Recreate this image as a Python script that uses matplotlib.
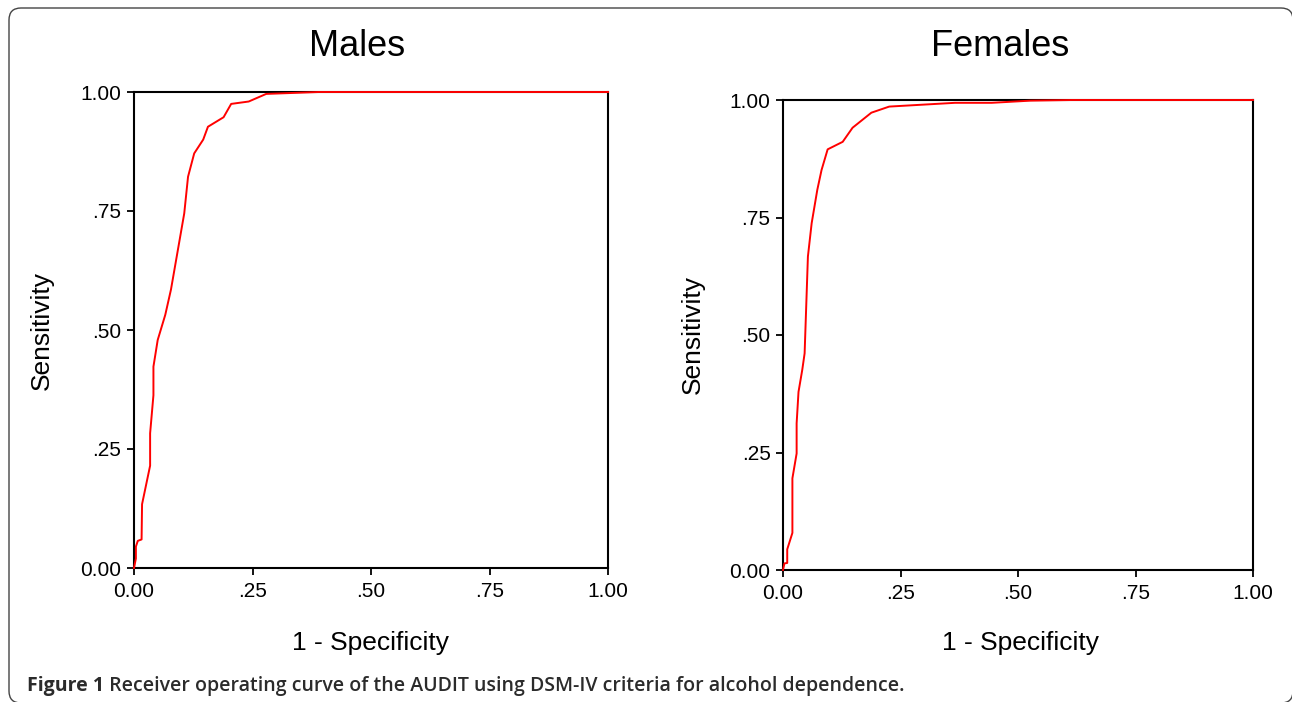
import matplotlib
matplotlib.use('Agg')
import matplotlib.pyplot as plt
from matplotlib.patches import FancyBboxPatch
from matplotlib.transforms import IdentityTransform

# ROC points (1 - specificity, sensitivity)
male_fpr = [0.0, 0.004, 0.004, 0.008, 0.016, 0.017, 0.034, 0.034, 0.041, 0.041, 0.050, 0.066,
            0.078, 0.106, 0.114, 0.127, 0.146, 0.156, 0.189, 0.205, 0.242, 0.279, 0.39, 1.0]
male_tpr = [0.0, 0.020, 0.045, 0.057, 0.060, 0.134, 0.215, 0.283, 0.363, 0.423, 0.479, 0.532,
            0.585, 0.745, 0.822, 0.871, 0.900, 0.927, 0.947, 0.975, 0.980, 0.996, 1.0, 1.0]

female_fpr = [0.0, 0.003, 0.009, 0.009, 0.020, 0.020, 0.029, 0.029, 0.033, 0.041, 0.046, 0.053,
              0.061, 0.073, 0.082, 0.095, 0.127, 0.148, 0.188, 0.226, 0.366, 0.444, 0.526, 0.615, 1.0]
female_tpr = [0.0, 0.014, 0.015, 0.044, 0.079, 0.195, 0.248, 0.312, 0.379, 0.426, 0.461, 0.667,
              0.738, 0.809, 0.851, 0.895, 0.911, 0.941, 0.973, 0.986, 0.994, 0.994, 0.9986, 1.0, 1.0]

tick_values = [0.0, 0.25, 0.5, 0.75, 1.0]
tick_labels = ['0.00', '.25', '.50', '.75', '1.00']

caption_bold = 'Figure 1'
caption_rest = ' Receiver operating curve of the AUDIT using DSM-IV criteria for alcohol dependence.'

W, H = 1292, 702
plt.rcParams['font.family'] = ['Liberation Sans', 'DejaVu Sans']

fig = plt.figure(figsize=(W / 100, H / 100), dpi=100)
fig.patch.set_facecolor('white')


def px_axes(left, top, right, bottom):
    # pixel box (from top-left) -> figure fraction
    return fig.add_axes([left / W, 1 - bottom / H, (right - left) / W, (bottom - top) / H])


def draw_roc(ax, fpr, tpr):
    ax.plot(fpr, tpr, color='#ff0000', lw=1.4, clip_on=False, zorder=5)
    ax.set_xlim(0, 1)
    ax.set_ylim(0, 1)
    ax.set_xticks(tick_values)
    ax.set_xticklabels(tick_labels)
    ax.set_yticks(tick_values)
    ax.set_yticklabels(tick_labels)
    ax.tick_params(direction='out', length=5, width=1.3, labelsize=15, colors='black')
    ax.tick_params(axis='x', pad=5)
    ax.tick_params(axis='y', pad=4)
    for s in ax.spines.values():
        s.set_linewidth(1.5)
        s.set_color('black')


ax1 = px_axes(134, 92, 608, 568)
draw_roc(ax1, male_fpr, male_tpr)

ax2 = px_axes(783, 100, 1253, 570)
draw_roc(ax2, female_fpr, female_tpr)

# titles and axis labels placed by pixel position
def ftext(x, y, s, **kw):
    fig.text(x / W, 1 - y / H, s, ha='center', va='center', **kw)

ftext(357, 46, 'Males', fontsize=26)
ftext(1000, 46, 'Females', fontsize=26)
ftext(371, 643, '1 - Specificity', fontsize=19)
ftext(1020, 643, '1 - Specificity', fontsize=19)
ftext(42, 331, 'Sensitivity', fontsize=19, rotation=90)
ftext(693, 335, 'Sensitivity', fontsize=19, rotation=90)

# rounded frame around the whole figure (right and bottom edges fall just off the page)
frame = FancyBboxPatch((9, -1), 1284, 695, boxstyle='round,pad=0,rounding_size=12',
                       transform=IdentityTransform(), fill=False, edgecolor='#444444', lw=1.0)
fig.patches.append(frame)

# caption: bold lead-in, then the rest
cap_font = ['Open Sans', 'DejaVu Sans']
t1 = fig.text(27 / W, 1 - 686 / H, caption_bold, fontsize=14, fontweight='bold',
              family=cap_font, color='#2b2b2b', va='center', ha='left')
fig.canvas.draw()
bb = t1.get_window_extent(renderer=fig.canvas.get_renderer())
fig.text(bb.x1 / W, 1 - 686 / H, caption_rest, fontsize=14, fontweight='semibold',
         family=cap_font, color='#2b2b2b', va='center', ha='left')

fig.savefig('out.png', dpi=100)
